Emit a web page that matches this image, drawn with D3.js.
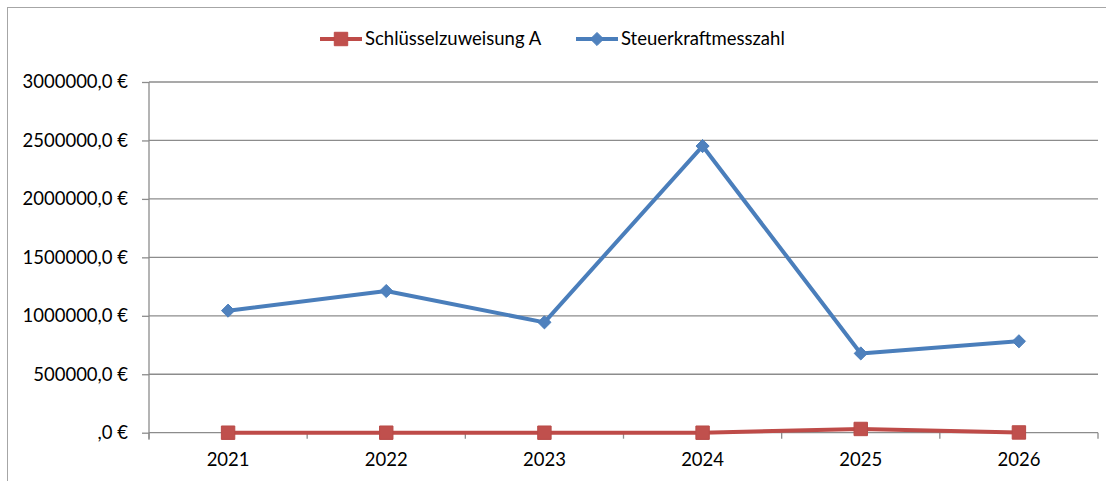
<!DOCTYPE html>
<html>
<head>
<meta charset="utf-8">
<script src="https://cdn.jsdelivr.net/npm/d3@7"></script>
<style>
  body { margin: 0; background: #fff; }
  svg text { font-family: Lato, "Open Sans", sans-serif; fill: #000; }
</style>
</head>
<body>
<div id="chart"></div>
<script>
// data
var years = ["2021", "2022", "2023", "2024", "2025", "2026"];
var schluesselzuweisung = [0, 0, 0, 0, 32000, 2000];
var steuerkraft = [1044000, 1212000, 944000, 2452000, 678000, 782000];
var yTicks = [0, 500000, 1000000, 1500000, 2000000, 2500000, 3000000];

var W = 1106, H = 481;
var plot = {left: 149, right: 1098, top: 82, bottom: 432.7};
var fs = 18.5;

var svg = d3.select("#chart")
  .append("svg")
    .attr("width", W)
    .attr("height", H);

// chart frame (runs off the picture at right and bottom)
svg.append("rect")
  .attr("x", 7.5).attr("y", 7.5)
  .attr("width", W + 20).attr("height", H + 20)
  .attr("fill", "none")
  .attr("stroke", "#a6a6a6")
  .attr("stroke-width", 1);

var x = d3.scaleBand()
  .domain(years)
  .range([plot.left, plot.right])
  .padding(0);

var y = d3.scaleLinear()
  .domain([0, 3000000])
  .range([plot.bottom, plot.top]);

function cx(d, i) { return x(years[i]) + x.bandwidth() / 2; }

// gridlines
svg.append("g")
  .selectAll("line")
  .data(yTicks.filter(function(d) { return d > 0; }))
  .enter().append("line")
    .attr("x1", plot.left).attr("x2", plot.right)
    .attr("y1", function(d) { return y(d); })
    .attr("y2", function(d) { return y(d); })
    .attr("stroke", "#8c8c8c")
    .attr("stroke-width", 1.3);

// Y axis
var yAxis = svg.append("g")
  .attr("transform", "translate(" + plot.left + ",0)")
  .call(d3.axisLeft(y)
    .tickValues(yTicks)
    .tickSize(7)
    .tickPadding(14)
    .tickFormat(function(d) { return (d === 0 ? "" : d) + ",0 €"; }));
yAxis.selectAll("text").style("font-size", fs + "px").attr("font-family", null);
yAxis.selectAll("line").attr("stroke", "#8c8c8c").attr("stroke-width", 1.3);
yAxis.select(".domain").remove();
svg.append("line")
  .attr("x1", plot.left).attr("x2", plot.left)
  .attr("y1", plot.top).attr("y2", plot.bottom + 7)
  .attr("stroke", "#8c8c8c").attr("stroke-width", 1.3);

// X axis labels
var xAxis = svg.append("g")
  .attr("transform", "translate(0," + plot.bottom + ")")
  .call(d3.axisBottom(x).tickSize(0).tickPadding(20));
xAxis.select(".domain").remove();
xAxis.selectAll("text").style("font-size", fs + "px").attr("font-family", null);

// X axis line + boundary ticks
svg.append("line")
  .attr("x1", plot.left).attr("x2", plot.right)
  .attr("y1", plot.bottom).attr("y2", plot.bottom)
  .attr("stroke", "#8c8c8c").attr("stroke-width", 1.3);
var bounds = years.map(function(c) { return x(c); }).concat([x.range()[1]]);
svg.append("g")
  .selectAll("line")
  .data(bounds)
  .enter().append("line")
    .attr("x1", function(d) { return d; })
    .attr("x2", function(d) { return d; })
    .attr("y1", plot.bottom).attr("y2", plot.bottom + 6)
    .attr("stroke", "#8c8c8c").attr("stroke-width", 1.3);

var line = d3.line()
  .x(cx)
  .y(function(d) { return y(d); });

// Steuerkraftmesszahl (blue)
svg.append("path")
  .datum(steuerkraft)
  .attr("fill", "none")
  .attr("stroke", "#4a7ebb")
  .attr("stroke-width", 4)
  .attr("stroke-linejoin", "round")
  .attr("d", line);

// Schlüsselzuweisung A (red)
svg.append("path")
  .datum(schluesselzuweisung)
  .attr("fill", "none")
  .attr("stroke", "#be4b48")
  .attr("stroke-width", 4)
  .attr("stroke-linejoin", "round")
  .attr("d", line);

var diamond = d3.symbol().type(d3.symbolDiamond2).size(110);
var square = d3.symbol().type(d3.symbolSquare).size(180);

svg.append("g")
  .selectAll("path")
  .data(steuerkraft)
  .enter().append("path")
    .attr("d", diamond)
    .attr("transform", function(d, i) { return "translate(" + cx(d, i) + "," + y(d) + ")"; })
    .attr("fill", "#4f81bd")
    .attr("stroke", "#4a7ebb")
    .attr("stroke-width", 1);

svg.append("g")
  .selectAll("path")
  .data(schluesselzuweisung)
  .enter().append("path")
    .attr("d", square)
    .attr("transform", function(d, i) { return "translate(" + cx(d, i) + "," + y(d) + ")"; })
    .attr("fill", "#c0504d")
    .attr("stroke", "#b84a47")
    .attr("stroke-width", 1);

// legend
var legendItems = [
  { name: "Schlüsselzuweisung A", color: "#be4b48", fill: "#c0504d", sym: square, x: 320 },
  { name: "Steuerkraftmesszahl", color: "#4a7ebb", fill: "#4f81bd", sym: diamond, x: 576 }
];
var legend = svg.append("g")
  .selectAll("g")
  .data(legendItems)
  .enter().append("g")
    .attr("transform", function(d) { return "translate(" + d.x + ",39)"; });
legend.append("line")
  .attr("x1", 0).attr("x2", 42)
  .attr("stroke", function(d) { return d.color; })
  .attr("stroke-width", 4);
legend.append("path")
  .attr("d", function(d) { return d.sym(); })
  .attr("transform", "translate(21,0)")
  .attr("fill", function(d) { return d.fill; })
  .attr("stroke", function(d) { return d.color; });
legend.append("text")
  .attr("x", 45)
  .attr("dy", "0.35em")
  .style("font-size", fs + "px")
  .text(function(d) { return d.name; });
</script>
</body>
</html>
